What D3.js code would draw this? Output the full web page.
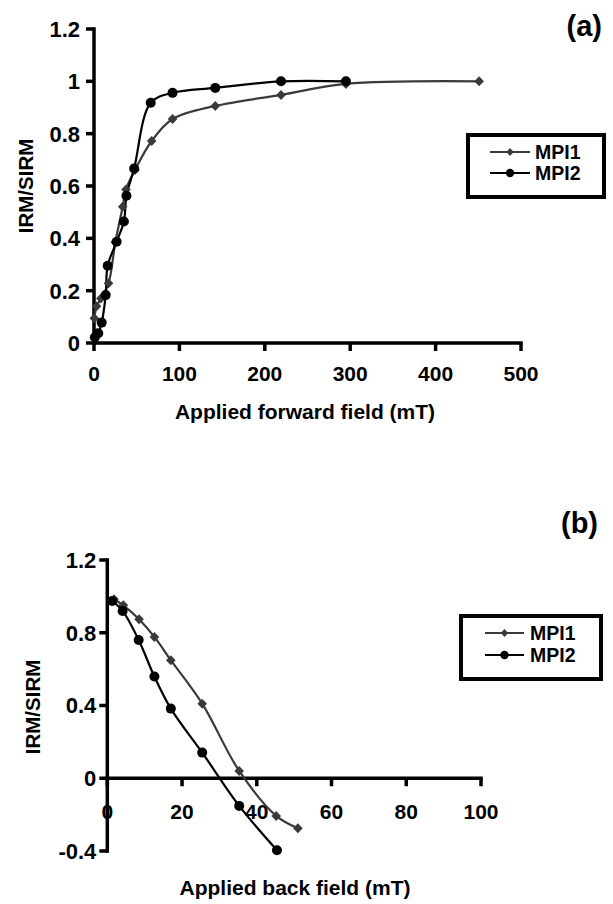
<!DOCTYPE html>
<html><head><meta charset="utf-8">
<script src="https://cdn.jsdelivr.net/npm/d3@7"></script>
<style>
body{margin:0;background:#fff;}
text{font-family:"Liberation Sans",Arial,sans-serif;font-weight:bold;fill:#000;}
</style></head>
<body><svg id="c" width="613" height="904"></svg>
<script>
// ---- Panel (a): forward field IRM acquisition ----
const seriesNames = ["MPI1", "MPI2"];
const fwdTicksX = [0, 100, 200, 300, 400, 500];
const fwdTicksY = [0, 0.2, 0.4, 0.6, 0.8, 1, 1.2];
const fwdMPI1 = [[0.4,0.095],[3,0.14],[8,0.17],[17,0.228],[25,0.385],[33.6,0.521],[37.5,0.587],[48,0.661],[67.5,0.772],[92,0.856],[142,0.906],[219,0.948],[295,0.99],[451,1.0]];
const fwdMPI2 = [[1,0.022],[5,0.037],[9,0.078],[13.7,0.183],[16,0.295],[26.5,0.387],[35,0.464],[38,0.563],[47,0.667],[66.4,0.918],[92,0.956],[142,0.975],[219,1.0],[295,1.0]];
// ---- Panel (b): back field demagnetisation ----
const backTicksX = [0, 20, 40, 60, 80, 100];
const backTicksY = [-0.4, 0, 0.4, 0.8, 1.2];
const backMPI1 = [[1.8,0.984],[4.3,0.951],[8.5,0.874],[12.6,0.777],[17,0.649],[25.4,0.41],[35.3,0.04],[45.2,-0.207],[51,-0.275]];
const backMPI2 = [[1.3,0.975],[4.1,0.92],[8.4,0.76],[12.6,0.559],[17,0.383],[25.4,0.141],[35.3,-0.152],[45.4,-0.396]];

const svg = d3.select("#c");
const colors = {MPI1:"#3a3a3a", MPI2:"#000"};
const fmt = d => String(+(+d).toFixed(1));
const AX = 3.5, TK = 8;

function diamondPath(hw, hh){ return `M0,${-hh}L${hw},0L0,${hh}L${-hw},0Z`; }

function panel(cfg){
  const g = svg.append("g");
  const x = d3.scaleLinear().domain(cfg.xDom).range(cfg.xRange);
  const y = d3.scaleLinear().domain(cfg.yDom).range(cfg.yRange);
  const xl = cfg.xRange[0], y0 = y(0), h = AX/2;
  // axis lines
  g.append("rect").attr("x",xl-h).attr("y",cfg.yRange[1]-h).attr("width",AX)
    .attr("height",cfg.yRange[0]-cfg.yRange[1]+AX).attr("fill","#000");
  g.append("rect").attr("x",xl-h).attr("y",y0-h).attr("width",cfg.xRange[1]-xl+AX)
    .attr("height",AX).attr("fill","#000");
  // ticks
  g.selectAll(".yt").data(cfg.yTicks).join("rect").attr("class","yt")
    .attr("x",xl-TK).attr("y",d=>y(d)-h).attr("width",TK).attr("height",AX).attr("fill","#000");
  g.selectAll(".xt").data(cfg.xTicks).join("rect").attr("class","xt")
    .attr("x",d=>x(d)-h).attr("y",y0).attr("width",AX).attr("height",TK).attr("fill","#000");
  g.selectAll(".yl").data(cfg.yTicks).join("text").attr("class","yl").attr("x",xl-TK-cfg.yPad).attr("y",d=>y(d))
    .attr("dy","0.36em").attr("text-anchor","end").style("font-size","22px").text(fmt);
  g.selectAll(".xl").data(cfg.xTicks).join("text").attr("class","xl").attr("x",d=>x(d)).attr("y",y0+cfg.xPad)
    .attr("dy","0.36em").attr("text-anchor","middle").style("font-size","21px").text(fmt);
  // data lines and markers
  const line = d3.line().x(d=>x(d[0])).y(d=>y(d[1])).curve(d3.curveCatmullRom.alpha(0.5));
  [[cfg.s1,"MPI1"],[cfg.s2,"MPI2"]].forEach(([data,name])=>{
    g.append("path").datum(data).attr("d",line).attr("fill","none")
      .attr("stroke",colors[name]).attr("stroke-width",2.2);
  });
  g.selectAll(".d1").data(cfg.s1).join("path").attr("class","d1").attr("d",diamondPath(4.8,5))
    .attr("transform",d=>`translate(${x(d[0])},${y(d[1])})`).attr("fill",colors.MPI1);
  g.selectAll(".d2").data(cfg.s2).join("circle").attr("class","d2").attr("r",5)
    .attr("cx",d=>x(d[0])).attr("cy",d=>y(d[1])).attr("fill",colors.MPI2);
  // titles
  g.append("text").attr("x",cfg.xtPos[0]).attr("y",cfg.xtPos[1]).attr("text-anchor","middle")
    .style("font-size","21px").text(cfg.xTitle);
  g.append("text").attr("transform",`translate(${cfg.ytPos[0]},${cfg.ytPos[1]}) rotate(-90)`)
    .attr("text-anchor","middle").style("font-size","20.5px").text("IRM/SIRM");
  g.append("text").attr("x",cfg.tag[0]).attr("y",cfg.tag[1]).attr("text-anchor","end")
    .style("font-size","29px").text(cfg.tagText);
  // legend
  const L = cfg.legend;
  g.append("rect").attr("x",L.x).attr("y",L.y).attr("width",L.w).attr("height",L.h)
    .attr("fill","#fff").attr("stroke","#000").attr("stroke-width",4);
  seriesNames.forEach((name,i)=>{
    const cy = L.y + L.r0 + i*L.dy;
    g.append("path").attr("d",`M${L.lx0},${cy}H${L.lx1}`)
      .attr("stroke",colors[name]).attr("stroke-width",2.2).attr("fill","none");
    const mx=(L.lx0+L.lx1)/2;
    if(name==="MPI1") g.append("path").attr("d",diamondPath(3.8,4)).attr("transform",`translate(${mx},${cy})`).attr("fill",colors[name]);
    else g.append("circle").attr("cx",mx).attr("cy",cy).attr("r",4.2).attr("fill",colors[name]);
    g.append("text").attr("x",L.tx).attr("y",cy).attr("dy","0.36em").style("font-size","19.5px").text(name);
  });
}

panel({xDom:[0,500], xRange:[94,521], yDom:[0,1.2], yRange:[343,29],
  xTicks:fwdTicksX, yTicks:fwdTicksY, xPad:30, yPad:6, s1:fwdMPI1, s2:fwdMPI2,
  xTitle:"Applied forward field (mT)", xtPos:[305,419], ytPos:[33,186],
  tag:[602,36], tagText:"(a)",
  legend:{x:468,y:135,w:136,h:62,r0:17,dy:21,lx0:490,lx1:530,tx:535}});

panel({xDom:[0,100], xRange:[107.3,481], yDom:[-0.4,1.2], yRange:[851,560],
  xTicks:backTicksX, yTicks:backTicksY, xPad:33, yPad:3, s1:backMPI1, s2:backMPI2,
  xTitle:"Applied back field (mT)", xtPos:[295,895], ytPos:[40,707],
  tag:[598,533], tagText:"(b)",
  legend:{x:461,y:616,w:140,h:63,r0:17,dy:22,lx0:485,lx1:524,tx:530}});
</script></body></html>
